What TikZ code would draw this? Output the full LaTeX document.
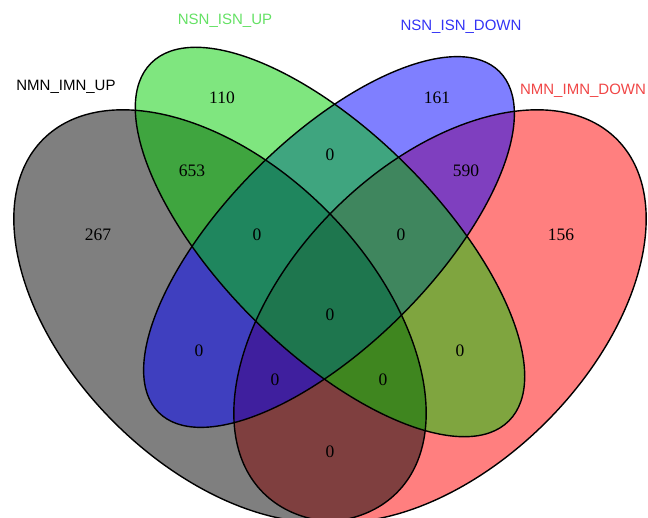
\documentclass[tikz,border=0pt]{standalone}
\usepackage{fontspec}
\setmainfont{Liberation Serif}
\newfontfamily\catfont{Liberation Sans}
\definecolor{setgray}{RGB}{0,0,0}
\definecolor{setgreen}{RGB}{0,205,0}
\definecolor{setblue}{RGB}{0,0,255}
\definecolor{setred}{RGB}{255,0,0}
\definecolor{catgreen}{RGB}{100,225,100}
\definecolor{catblue}{RGB}{50,50,245}
\definecolor{catred}{RGB}{240,70,70}
\begin{document}
\begin{tikzpicture}[x=1pt,y=1pt,
  setfill/.style={fill=#1, fill opacity=0.5},
  setline/.style={draw=black, line width=1.4pt},
  count/.style={font=\fontsize{17.5}{20}\selectfont, text=black, inner sep=0pt},
  cat/.style={font=\catfont\fontsize{15}{18}\selectfont, inner sep=0pt, anchor=base},
  ellgray/.style={shift={(220,201)}, rotate=-45},
  ellgreen/.style={shift={(330,275)}, rotate=-45},
  ellblue/.style={shift={(329,275)}, rotate=45},
  ellred/.style={shift={(440,201)}, rotate=45},
  outer/.style={x radius=250pt, y radius=150pt},
  greenaxes/.style={x radius=253pt, y radius=108.5pt},
  blueaxes/.style={x radius=241pt, y radius=103pt}
]
\useasboundingbox (0,0) rectangle (648,517);
\clip (0,0) rectangle (648,517);

% translucent set fills
\fill[setfill=setred, ellred] (0,0) ellipse [outer];
\fill[setfill=setgray, ellgray] (0,0) ellipse [outer];
\fill[setfill=setblue, ellblue] (0,0) ellipse [blueaxes];
\fill[setfill=setgreen, ellgreen] (0,0) ellipse [greenaxes];

% outlines on top
\draw[setline, ellred] (0,0) ellipse [outer];
\draw[setline, ellgray] (0,0) ellipse [outer];
\draw[setline, ellblue] (0,0) ellipse [blueaxes];
\draw[setline, ellgreen] (0,0) ellipse [greenaxes];

% category labels
\node[cat, text=black] (catA) at (66,426.6) {NMN\_IMN\_UP};
\node[cat, text=catgreen] (catB) at (225,492.6) {NSN\_ISN\_UP};
\node[cat, text=catblue] (catC) at (461,486.6) {NSN\_ISN\_DOWN};
\node[cat, text=catred] (catD) at (583,422.6) {NMN\_IMN\_DOWN};

% region counts
\node[count] (nB) at (222,419) {110};
\node[count] (nC) at (437,419) {161};
\node[count] (nAB) at (192,346) {653};
\node[count] (nCD) at (466,346) {590};
\node[count] (nBC) at (330,362) {0};
\node[count] (nA) at (98,282) {267};
\node[count] (nD) at (561,282) {156};
\node[count] (nABC) at (257,282) {0};
\node[count] (nBCD) at (401,282) {0};
\node[count] (nABCD) at (330,202) {0};
\node[count] (nAC) at (199,166) {0};
\node[count] (nBD) at (460,166) {0};
\node[count] (nACD) at (275,137) {0};
\node[count] (nABD) at (383,137) {0};
\node[count] (nAD) at (330,65) {0};
\end{tikzpicture}
\end{document}
